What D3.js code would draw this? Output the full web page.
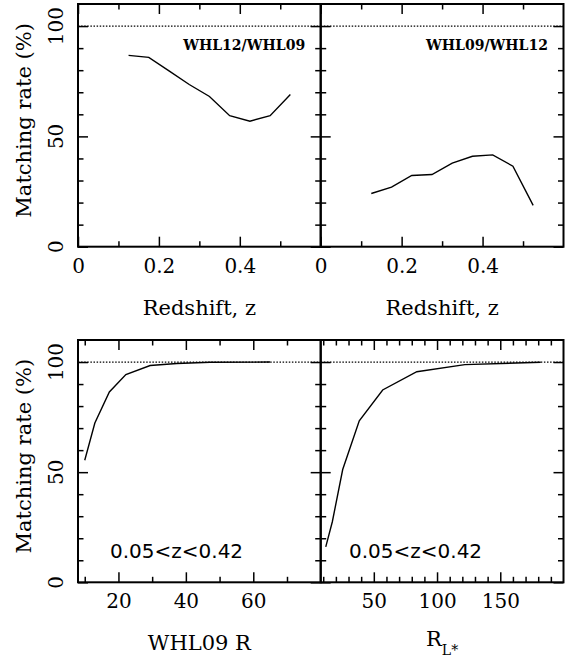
<!DOCTYPE html>
<html>
<head>
<meta charset="utf-8">
<script src="https://cdn.jsdelivr.net/npm/d3@7"></script>
<style>
  body { margin: 0; background: #fff; }
  svg { display: block; }
</style>
</head>
<body>
<svg id="chart" width="569" height="659"></svg>
<script>
// Data
const zBins = [0.125, 0.175, 0.225, 0.275, 0.325, 0.375, 0.425, 0.475, 0.525];
const rate12in09 = [86.7, 85.8, 79.7, 73.5, 68.1, 59.4, 56.9, 59.4, 69.0];
const rate09in12 = [24.1, 27.0, 32.3, 32.7, 37.9, 41.0, 41.6, 36.5, 18.7];

const richWHL09 = [10, 13, 17.3, 22.2, 29.4, 37.3, 47.2, 65];
const rateWHL09 = [55.4, 72.3, 86.4, 94.3, 98.4, 99.3, 99.9, 100];

const richRL = [12, 17.2, 25.4, 38.5, 57, 84, 122, 182];
const rateRL = [16.1, 27.5, 51.2, 73.3, 87.3, 95.6, 98.8, 99.9];

// Tick values
const yMajor = [0, 50, 100];
const yMinor = [10, 20, 30, 40, 60, 70, 80, 90];
const zMajor = [0, 0.2, 0.4];
const zMinor = [0.1, 0.3, 0.5];
const r09Major = [20, 40, 60];
const r09Minor = [10, 30, 50, 70];
const rlMajor = [50, 100, 150];
const rlMinor = [10, 20, 30, 40, 60, 70, 80, 90, 110, 120, 130, 140, 160, 170, 180, 190];

const SERIF = "'DejaVu Serif', serif";
const SANS = "'DejaVu Sans', sans-serif";
const MAJOR = 10, MINOR = 5.5;

const svg = d3.select('#chart');
svg.append('rect').attr('width', 569).attr('height', 659).attr('fill', '#fff');

// panel layout
const panels = [
  { x0: 78, x1: 320.7, y0: 4, y1: 246.7, xDomain: [0, 0.6], xs: zBins, ys: rate12in09,
    xMajor: zMajor, xMinor: zMinor, fmt: d => d === 0 ? '0' : d3.format('.1f')(d),
    yLabels: true, xTitle: 'Redshift, z', tag: 'WHL12/WHL09' },
  { x0: 320.7, x1: 563.5, y0: 4, y1: 246.7, xDomain: [0, 0.6], xs: zBins, ys: rate09in12,
    xMajor: zMajor, xMinor: zMinor, fmt: d => d === 0 ? '0' : d3.format('.1f')(d),
    yLabels: false, xTitle: 'Redshift, z', tag: 'WHL09/WHL12' },
  { x0: 78, x1: 320.7, y0: 340, y1: 582.3, xDomain: [8, 80], xs: richWHL09, ys: rateWHL09,
    xMajor: r09Major, xMinor: r09Minor, fmt: d3.format('d'),
    yLabels: true, xTitle: 'WHL09 R', note: '0.05<z<0.42', noteX: 110 },
  { x0: 320.7, x1: 563.5, y0: 340, y1: 582.3, xDomain: [8, 200], xs: richRL, ys: rateRL,
    xMajor: rlMajor, xMinor: rlMinor, fmt: d3.format('d'),
    yLabels: false, xTitle: 'R', sub: 'L*', note: '0.05<z<0.42', noteX: 349 }
];

panels.forEach(p => {
  const g = svg.append('g');
  const x = d3.scaleLinear().domain(p.xDomain).range([p.x0, p.x1]);
  const y = d3.scaleLinear().domain([0, 110]).range([p.y1, p.y0]);

  // ticks on all four sides, pointing inwards
  const addAxis = (axis, tx, ty, vals, size, fmt, pad) => {
    const a = g.append('g')
      .attr('transform', `translate(${tx},${ty})`)
      .call(axis.tickValues(vals).tickSize(-size).tickSizeOuter(0)
        .tickPadding(pad || 0).tickFormat(fmt || (() => '')));
    a.select('.domain').remove();
    a.selectAll('line').attr('stroke', '#000').attr('stroke-width', 1.5);
    return a;
  };
  const bx = addAxis(d3.axisBottom(x), 0, p.y1, p.xMajor, MAJOR, p.fmt, 12);
  bx.selectAll('text').attr('font-family', SERIF).attr('font-size', 20).attr('fill', '#000');
  addAxis(d3.axisBottom(x), 0, p.y1, p.xMinor, MINOR);
  addAxis(d3.axisTop(x), 0, p.y0, p.xMajor, MAJOR);
  addAxis(d3.axisTop(x), 0, p.y0, p.xMinor, MINOR);
  addAxis(d3.axisLeft(y), p.x0, 0, yMajor, MAJOR);
  addAxis(d3.axisLeft(y), p.x0, 0, yMinor, MINOR);
  addAxis(d3.axisRight(y), p.x1, 0, yMajor, MAJOR);
  addAxis(d3.axisRight(y), p.x1, 0, yMinor, MINOR);

  // rotated y tick labels
  if (p.yLabels) {
    g.selectAll('.ylab').data(yMajor).join('text')
      .attr('transform', d => `translate(63,${y(d)}) rotate(-90)`)
      .attr('text-anchor', 'middle')
      .attr('font-family', SERIF).attr('font-size', 20)
      .text(d => d);
    g.append('text')
      .attr('transform', `translate(31,${(p.y0 + p.y1) / 2 - 5}) rotate(-90)`)
      .attr('text-anchor', 'middle')
      .attr('font-family', SERIF).attr('font-size', 21)
      .text('Matching rate (%)');
  }

  // 100% reference line
  g.append('line')
    .attr('x1', p.x0).attr('x2', p.x1)
    .attr('y1', y(100)).attr('y2', y(100))
    .attr('stroke', '#000').attr('stroke-width', 1.2)
    .attr('stroke-dasharray', '1.5,1.6');

  // data line
  const line = d3.line().x(d => x(d[0])).y(d => y(d[1]));
  g.append('path')
    .datum(p.xs.map((v, i) => [v, p.ys[i]]))
    .attr('fill', 'none').attr('stroke', '#000').attr('stroke-width', 1.4)
    .attr('d', line);

  // frame
  g.append('rect')
    .attr('x', p.x0).attr('y', p.y0)
    .attr('width', p.x1 - p.x0).attr('height', p.y1 - p.y0)
    .attr('fill', 'none').attr('stroke', '#000').attr('stroke-width', 2);

  // x title
  const t = g.append('text')
    .attr('x', (p.x0 + p.x1) / 2).attr('y', p.sub ? p.y1 + 64 : p.y1 + 68)
    .attr('text-anchor', 'middle')
    .attr('font-family', SERIF).attr('font-size', 21)
    .text(p.xTitle);
  if (p.sub) {
    t.append('tspan').attr('font-size', 14).attr('dy', 9).text(p.sub);
  }

  if (p.tag) {
    g.append('text')
      .attr('x', p.x1 - 15.5).attr('y', p.y0 + 45.5)
      .attr('text-anchor', 'end')
      .attr('font-family', SERIF).attr('font-size', 15).attr('font-weight', 'bold')
      .attr('textLength', 122).attr('lengthAdjust', 'spacingAndGlyphs')
      .text(p.tag);
  }
  if (p.note) {
    g.append('text')
      .attr('x', p.noteX).attr('y', 557.5)
      .attr('font-family', SANS).attr('font-size', 20)
      .text(p.note);
  }
});
</script>
</body>
</html>
